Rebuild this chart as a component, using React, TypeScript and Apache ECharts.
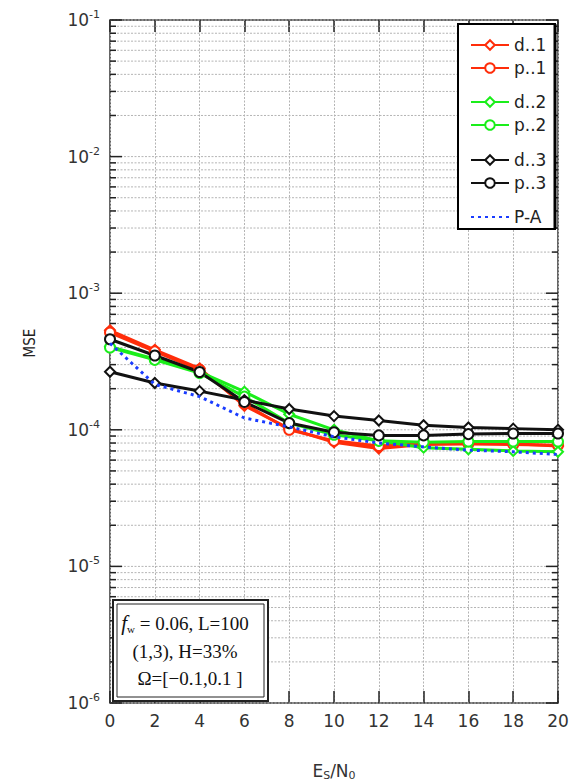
import React, { useEffect, useRef } from "react";
import * as echarts from "echarts";

const snr = [0, 2, 4, 6, 8, 10, 12, 14, 16, 18, 20];
const d1 = [5.35e-4, 3.85e-4, 2.82e-4, 1.5e-4, 1.02e-4, 8.1e-5, 7.3e-5, 7.8e-5, 7.9e-5, 7.9e-5, 7.6e-5];
const p1 = [5.15e-4, 3.75e-4, 2.75e-4, 1.55e-4, 1.0e-4, 8.3e-5, 7.6e-5, 7.9e-5, 7.9e-5, 7.8e-5, 7.7e-5];
const d2 = [4.05e-4, 3.3e-4, 2.65e-4, 1.9e-4, 1.3e-4, 1.0e-4, 8.3e-5, 7.4e-5, 7.2e-5, 7.0e-5, 6.9e-5];
const p2 = [4.0e-4, 3.25e-4, 2.6e-4, 1.75e-4, 1.12e-4, 9.2e-5, 8.3e-5, 8.1e-5, 8.2e-5, 8.2e-5, 8.2e-5];
const d3 = [2.66e-4, 2.2e-4, 1.92e-4, 1.65e-4, 1.42e-4, 1.26e-4, 1.17e-4, 1.08e-4, 1.04e-4, 1.02e-4, 1.0e-4];
const p3 = [4.6e-4, 3.5e-4, 2.65e-4, 1.6e-4, 1.12e-4, 9.6e-5, 9.1e-5, 9.1e-5, 9.3e-5, 9.4e-5, 9.4e-5];
const pa = [4.3e-4, 2.15e-4, 1.75e-4, 1.22e-4, 1.05e-4, 8.9e-5, 8.0e-5, 7.5e-5, 7.1e-5, 6.9e-5, 6.6e-5];

const decades = [-6, -5, -4, -3, -2];
const mantissas = [1, 2, 3, 4, 5, 6, 7, 8, 9];

const RED = "#ff2d0a";
const GREEN = "#1aee1a";
const BLACK = "#111111";
const BLUE = "#1a3cff";
const FONT = "DejaVu Sans";
const SERIF = "Liberation Serif";

export default function App() {
  const ref = useRef<HTMLDivElement>(null);
  useEffect(() => {
    if (!ref.current) return;
    const chart = echarts.init(ref.current, null, { renderer: "svg" });

    const gridVals: number[][] = [];
    decades.forEach((e) =>
      mantissas.forEach((m) => gridVals.push([0, m * Math.pow(10, e), m === 1 ? 1 : 0]))
    );
    gridVals.push([0, 1e-1, 1]);

    const mk = (name: string, vals: number[], color: string, symbol: string) => ({
      name,
      type: "line",
      data: snr.map((x, i) => [x, vals[i]]),
      symbol,
      symbolSize: 10,
      lineStyle: { color, width: 3 },
      itemStyle: { color: "#fff", borderColor: color, borderWidth: 2 },
      z: 3,
    });

    const legendCommon = {
      orient: "vertical",
      left: 465,
      itemWidth: 38,
      itemHeight: 12,
      itemGap: 6,
      selectedMode: false,
      z: 6,
      textStyle: { fontSize: 17, color: "#222", fontFamily: FONT, lineHeight: 17, padding: [0, 0, 0, 0] },
    };

    chart.setOption({
      animation: false,
      grid: {
        left: 110,
        right: 18,
        top: 20,
        bottom: 80,
        outerBoundsMode: "none",
        show: true,
        borderColor: "#333",
        borderWidth: 1.5,
        backgroundColor: "transparent",
      },
      xAxis: [
        {
          type: "value",
          min: 0,
          max: 20,
          interval: 2,
          position: "bottom",
          axisLine: { show: false },
          axisTick: { show: true, inside: true, length: 12, lineStyle: { color: "#222", width: 1.5 } },
          axisLabel: { fontSize: 17, color: "#333", margin: 9, fontFamily: FONT },
          splitLine: { show: true, lineStyle: { color: "#b4b4b4", type: [2, 1.5], width: 1 } },
          name: "{a|E}{sub|S}{a|/N}{sub|0}",
          nameLocation: "middle",
          nameGap: 58,
          nameTextStyle: {
            rich: {
              a: { fontSize: 17, color: "#333", fontFamily: FONT, lineHeight: 20 },
              sub: { fontSize: 11, color: "#333", fontFamily: FONT, lineHeight: 12, verticalAlign: "bottom" },
            },
          },
        },
        {
          type: "value",
          min: 0,
          max: 20,
          interval: 2,
          position: "top",
          axisLine: { show: false },
          axisTick: { show: true, inside: true, length: 12, lineStyle: { color: "#222", width: 1.5 } },
          axisLabel: { show: false },
          splitLine: { show: false },
        },
      ],
      yAxis: [
        {
          type: "log",
          logBase: 10,
          min: 1e-6,
          max: 1e-1,
          axisLine: { show: false },
          axisTick: { show: false },
          splitLine: { show: false },
          axisLabel: {
            margin: 10,
            formatter: (v: number) => `{b|10}{s|${Math.round(Math.log10(v))}}`,
            rich: {
              b: { fontSize: 17, color: "#333", fontFamily: FONT, lineHeight: 22 },
              s: { fontSize: 11, color: "#333", fontFamily: FONT, lineHeight: 12, verticalAlign: "top" },
            },
          },
        },
      ],
      legend: [
        { ...legendCommon, top: 31.5, data: ["d..1", "p..1"] },
        { ...legendCommon, top: 88.5, data: ["d..2", "p..2"] },
        { ...legendCommon, top: 146.5, data: ["d..3", "p..3"] },
        { ...legendCommon, top: 203.5, data: [{ name: "P-A", itemStyle: { opacity: 0 } }] },
      ],
      graphic: [
        {
          type: "rect",
          z: 5,
          shape: { x: 458, y: 24, width: 97, height: 205 },
          style: { fill: "#fff", stroke: "#000", lineWidth: 2 },
        },
        {
          type: "line",
          z: 5,
          shape: { x1: 555, y1: 24, x2: 555, y2: 229 },
          style: { stroke: "#000", lineWidth: 3 },
        },
        {
          type: "rect",
          z: 5,
          shape: { x: 113, y: 600, width: 155, height: 101 },
          style: { fill: "#fff", stroke: "#222", lineWidth: 2 },
        },
        {
          type: "rect",
          z: 5,
          shape: { x: 117, y: 604, width: 147, height: 93 },
          style: { fill: "#fff", stroke: "#222", lineWidth: 1 },
        },
        {
          type: "text",
          z: 6,
          x: 185,
          y: 623,
          style: {
            text: "{i|f}{sub|w}{n| = 0.06, L=100}",
            align: "center",
            verticalAlign: "middle",
            rich: {
              i: { fontSize: 21, fontStyle: "italic", fontFamily: SERIF, fill: "#111", lineHeight: 22 },
              sub: { fontSize: 11, fontFamily: SERIF, fill: "#111", lineHeight: 11, verticalAlign: "bottom" },
              n: { fontSize: 19, fontFamily: SERIF, fill: "#111", lineHeight: 22 },
            },
          },
        },
        {
          type: "text",
          z: 6,
          x: 185,
          y: 651,
          style: {
            text: "(1,3), H=33%",
            align: "center",
            verticalAlign: "middle",
            fontSize: 19,
            fontFamily: SERIF,
            fill: "#111",
          },
        },
        {
          type: "text",
          z: 6,
          x: 190,
          y: 678,
          style: {
            text: "Ω=[−0.1,0.1 ]",
            align: "center",
            verticalAlign: "middle",
            fontSize: 19,
            fontFamily: SERIF,
            fill: "#111",
          },
        },
        {
          type: "text",
          x: 30,
          y: 343,
          rotation: Math.PI / 2,
          style: {
            text: "MSE",
            align: "center",
            verticalAlign: "middle",
            fontSize: 15,
            fontFamily: "DejaVu Sans Condensed",
            fill: "#222",
          },
        },
      ],
      series: [
        {
          type: "custom",
          silent: true,
          z: 1,
          data: gridVals,
          encode: { x: 0, y: 1 },
          renderItem: (params: any, api: any) => {
            const v = api.value(1);
            const major = api.value(2) === 1;
            const a = api.coord([0, v]);
            const b = api.coord([20, v]);
            const len = major ? 12 : 6;
            return {
              type: "group",
              children: [
                {
                  type: "line",
                  shape: { x1: a[0], y1: a[1], x2: b[0], y2: b[1] },
                  style: { stroke: "#b4b4b4", lineWidth: 1, lineDash: [2, 1.5] },
                },
                {
                  type: "line",
                  shape: { x1: a[0], y1: a[1], x2: a[0] + len, y2: a[1] },
                  style: { stroke: "#222", lineWidth: 1.5 },
                },
                {
                  type: "line",
                  shape: { x1: b[0] - len, y1: b[1], x2: b[0], y2: b[1] },
                  style: { stroke: "#222", lineWidth: 1.5 },
                },
              ],
            };
          },
        },
        mk("d..1", d1, RED, "diamond"),
        mk("p..1", p1, RED, "circle"),
        mk("d..2", d2, GREEN, "diamond"),
        mk("p..2", p2, GREEN, "circle"),
        mk("d..3", d3, BLACK, "diamond"),
        mk("p..3", p3, BLACK, "circle"),
        {
          name: "P-A",
          type: "line",
          data: snr.map((x, i) => [x, pa[i]]),
          symbol: "none",
          lineStyle: { color: BLUE, width: 3, type: [3, 4] },
          itemStyle: { color: BLUE },
          z: 4,
        },
      ],
    });
    return () => chart.dispose();
  }, []);
  return (
    <div
      ref={ref}
      style={{ position: "absolute", left: 0, top: 0, width: 576, height: 783 }}
    />
  );
}
